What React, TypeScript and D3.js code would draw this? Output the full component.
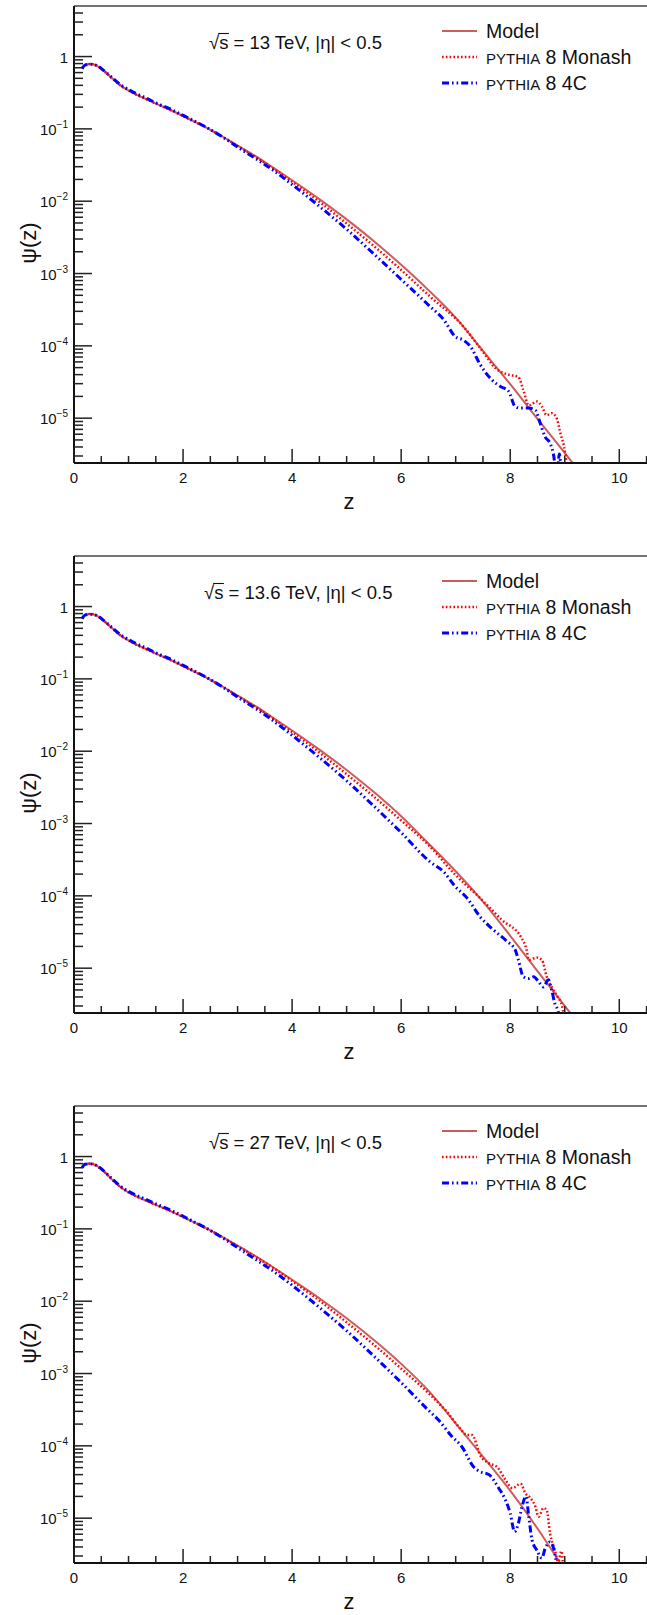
import React, { useEffect, useRef } from "react";
import * as d3 from "d3";

type Pt = [number, number];

// energies shown in the three panels
const energies = ["13", "13.6", "27"];
const xMajor = [0, 2, 4, 6, 8, 10];
const yMajorExp = [0, -1, -2, -3, -4, -5];

// z, psi(z) — sqrt(s) = 13 TeV
const model13: Pt[] = [
  [0.15, 0.7], [0.2, 0.76], [0.3, 0.79], [0.4, 0.76], [0.55, 0.63], [0.7, 0.5],
  [0.85, 0.4], [1.0, 0.34], [1.15, 0.295], [1.3, 0.263], [1.5, 0.224], [1.8, 0.178],
  [2.1, 0.138], [2.45, 0.102], [2.75, 0.076], [3.05, 0.056], [3.35, 0.041], [3.65, 0.0292],
  [4.0, 0.0195], [4.5, 0.0107], [5.0, 5.6e-3], [5.5, 2.8e-3], [6.0, 1.32e-3], [6.5, 5.9e-4],
  [7.0, 2.45e-4], [7.5, 8.5e-5], [8.0, 2.95e-5], [8.5, 9.8e-6], [9.0, 3.3e-6], [9.5, 1.1e-6],
];
const monash13: Pt[] = [
  [0.15, 0.69], [0.2, 0.76], [0.3, 0.79], [0.4, 0.76], [0.55, 0.63], [0.7, 0.5],
  [0.85, 0.4], [1.0, 0.34], [1.15, 0.295], [1.3, 0.263], [1.5, 0.224], [1.8, 0.178],
  [2.1, 0.138], [2.45, 0.102], [2.75, 0.076], [3.05, 0.055], [3.35, 0.04], [3.65, 0.0285],
  [4.0, 0.0186], [4.5, 9.8e-3], [5.0, 4.9e-3], [5.5, 2.4e-3], [6.0, 1.12e-3], [6.53, 4.8e-4],
  [7.14, 1.85e-4], [7.45, 9.3e-5], [7.76, 4.7e-5], [7.97, 4.0e-5], [8.15, 3.7e-5], [8.24, 2.45e-5],
  [8.34, 1.5e-5], [8.49, 1.7e-5], [8.58, 1.45e-5], [8.67, 1.1e-5], [8.76, 1.17e-5], [8.84, 1.05e-5],
  [8.92, 6.2e-6], [9.01, 3.2e-6], [9.06, 1.5e-6],
];
const pythia4c13: Pt[] = [
  [0.15, 0.68], [0.2, 0.76], [0.3, 0.78], [0.4, 0.76], [0.55, 0.64], [0.7, 0.51],
  [0.85, 0.41], [1.0, 0.35], [1.15, 0.305], [1.3, 0.272], [1.5, 0.23], [1.8, 0.183],
  [2.1, 0.141], [2.45, 0.103], [2.75, 0.075], [3.05, 0.053], [3.35, 0.038], [3.65, 0.0269],
  [4.0, 0.017], [4.5, 8.5e-3], [5.0, 4.1e-3], [5.5, 1.86e-3], [6.0, 8.3e-4], [6.53, 3.5e-4],
  [6.78, 2.3e-4], [6.99, 1.35e-4], [7.14, 1.2e-4], [7.27, 9.8e-5], [7.45, 5.5e-5], [7.66, 3.4e-5],
  [7.82, 2.75e-5], [7.97, 2.35e-5], [8.09, 1.45e-5], [8.18, 1.38e-5], [8.34, 1.38e-5], [8.46, 1.29e-5],
  [8.55, 8.5e-6], [8.64, 5.5e-6], [8.73, 4.5e-6], [8.81, 2.6e-6], [8.85, 1.2e-6], [8.9, 3.2e-6],
  [8.95, 1.0e-6],
];

// sqrt(s) = 13.6 TeV
const model136: Pt[] = [
  [0.15, 0.7], [0.2, 0.76], [0.3, 0.79], [0.4, 0.76], [0.55, 0.63], [0.7, 0.5],
  [0.85, 0.4], [1.0, 0.34], [1.15, 0.295], [1.3, 0.263], [1.5, 0.224], [1.8, 0.178],
  [2.1, 0.138], [2.45, 0.102], [2.75, 0.076], [3.05, 0.056], [3.35, 0.041], [3.65, 0.029],
  [4.0, 0.0193], [4.5, 0.0105], [5.0, 5.5e-3], [5.5, 2.72e-3], [6.0, 1.26e-3], [6.5, 5.3e-4],
  [7.0, 2.19e-4], [7.5, 8.3e-5], [8.0, 2.8e-5], [8.5, 9.1e-6], [9.0, 3.0e-6], [9.5, 1.0e-6],
];
const monash136: Pt[] = [
  [0.15, 0.69], [0.2, 0.76], [0.3, 0.79], [0.4, 0.76], [0.55, 0.63], [0.7, 0.5],
  [0.85, 0.4], [1.0, 0.34], [1.15, 0.295], [1.3, 0.263], [1.5, 0.224], [1.8, 0.178],
  [2.1, 0.138], [2.45, 0.102], [2.75, 0.076], [3.05, 0.055], [3.35, 0.04], [3.65, 0.0283],
  [4.0, 0.0184], [4.5, 9.6e-3], [5.0, 4.8e-3], [5.5, 2.35e-3], [6.0, 1.1e-3], [6.53, 4.8e-4],
  [6.98, 2.0e-4], [7.45, 9.3e-5], [7.84, 4.7e-5], [8.21, 2.6e-5], [8.3, 1.8e-5], [8.34, 1.3e-5],
  [8.49, 1.4e-5], [8.58, 1.3e-5], [8.67, 7.6e-6], [8.76, 5.5e-6], [8.86, 4.1e-6], [8.95, 3.0e-6],
  [9.02, 1.5e-6],
];
const pythia4c136: Pt[] = [
  [0.15, 0.68], [0.2, 0.76], [0.3, 0.78], [0.4, 0.76], [0.55, 0.64], [0.7, 0.51],
  [0.85, 0.41], [1.0, 0.35], [1.15, 0.305], [1.3, 0.272], [1.5, 0.23], [1.8, 0.183],
  [2.1, 0.141], [2.45, 0.103], [2.75, 0.075], [3.05, 0.053], [3.35, 0.038], [3.65, 0.0265],
  [4.0, 0.0166], [4.5, 8.2e-3], [5.0, 3.9e-3], [5.5, 1.74e-3], [6.0, 7.5e-4], [6.53, 2.95e-4],
  [6.78, 2.15e-4], [6.99, 1.35e-4], [7.21, 9.3e-5], [7.45, 5.1e-5], [7.66, 3.55e-5], [7.94, 2.35e-5],
  [8.09, 1.8e-5], [8.15, 1.3e-5], [8.24, 7.6e-6], [8.34, 7.2e-6], [8.43, 7.6e-6], [8.52, 6.5e-6],
  [8.61, 5.5e-6], [8.7, 6.9e-6], [8.76, 5.0e-6], [8.82, 3.2e-6], [8.88, 2.5e-6], [8.93, 1.0e-6],
];

// sqrt(s) = 27 TeV
const model27: Pt[] = [
  [0.15, 0.72], [0.2, 0.78], [0.3, 0.8], [0.4, 0.76], [0.55, 0.62], [0.7, 0.48],
  [0.85, 0.38], [1.0, 0.32], [1.15, 0.28], [1.3, 0.25], [1.5, 0.215], [1.8, 0.172],
  [2.1, 0.134], [2.45, 0.1], [2.75, 0.075], [3.05, 0.056], [3.35, 0.041], [3.65, 0.0295],
  [4.0, 0.0198], [4.5, 0.011], [5.0, 5.8e-3], [5.5, 2.9e-3], [6.0, 1.36e-3], [6.5, 5.8e-4],
  [7.0, 2.04e-4], [7.5, 7.1e-5], [8.0, 2.4e-5], [8.5, 7.2e-6], [9.0, 1.9e-6],
];
const monash27: Pt[] = [
  [0.15, 0.71], [0.2, 0.78], [0.3, 0.8], [0.4, 0.76], [0.55, 0.62], [0.7, 0.48],
  [0.85, 0.38], [1.0, 0.32], [1.15, 0.28], [1.3, 0.25], [1.5, 0.215], [1.8, 0.172],
  [2.1, 0.134], [2.45, 0.1], [2.75, 0.075], [3.05, 0.055], [3.35, 0.04], [3.65, 0.029],
  [4.0, 0.019], [4.5, 0.0102], [5.0, 5.1e-3], [5.5, 2.5e-3], [6.0, 1.17e-3], [6.53, 5.1e-4],
  [6.84, 2.95e-4], [7.08, 1.74e-4], [7.21, 1.41e-4], [7.3, 1.41e-4], [7.45, 7.4e-5], [7.61, 5.75e-5],
  [7.76, 5.1e-5], [7.91, 3.4e-5], [8.04, 2.6e-5], [8.19, 3.0e-5], [8.28, 2.2e-5], [8.37, 1.9e-5],
  [8.46, 1.45e-5], [8.52, 1.05e-5], [8.61, 1.38e-5], [8.67, 1.29e-5], [8.73, 6.2e-6], [8.82, 3.6e-6],
  [8.88, 2.5e-6], [8.94, 3.5e-6], [8.98, 1.5e-6],
];
const pythia4c27: Pt[] = [
  [0.15, 0.7], [0.2, 0.78], [0.3, 0.79], [0.4, 0.76], [0.55, 0.63], [0.7, 0.49],
  [0.85, 0.39], [1.0, 0.33], [1.15, 0.29], [1.3, 0.26], [1.5, 0.222], [1.8, 0.178],
  [2.1, 0.137], [2.45, 0.1], [2.75, 0.073], [3.05, 0.052], [3.35, 0.037], [3.65, 0.0262],
  [4.0, 0.0166], [4.5, 8.2e-3], [5.0, 3.9e-3], [5.5, 1.74e-3], [6.0, 7.5e-4], [6.53, 2.95e-4],
  [6.68, 2.3e-4], [6.93, 1.35e-4], [7.11, 9.8e-5], [7.33, 5.1e-5], [7.45, 4.4e-5], [7.61, 4.0e-5],
  [7.79, 2.6e-5], [7.91, 1.8e-5], [8.0, 1.17e-5], [8.08, 6.5e-6], [8.15, 8.5e-6], [8.21, 1.38e-5],
  [8.29, 2.0e-5], [8.34, 1.05e-5], [8.4, 5.0e-6], [8.49, 3.6e-6], [8.58, 2.8e-6], [8.64, 3.8e-6],
  [8.73, 4.7e-6], [8.82, 3.2e-6], [8.88, 1.5e-6],
];

const modelSeries = [model13, model136, model27];
const monashSeries = [monash13, monash136, monash27];
const pythia4cSeries = [pythia4c13, pythia4c136, pythia4c27];

const FONT = "'Liberation Sans', Arial, Helvetica, sans-serif";

const App = () => {
  const ref = useRef<SVGSVGElement | null>(null);

  useEffect(() => {
    const svg = d3.select(ref.current);
    svg.selectAll("*").remove();

    const left = 74;
    const top = 6;
    const bottom = 463;
    const right = 652;
    const step = 550;

    const x = d3.scaleLinear().domain([0, 10.6]).range([left, right]);
    const y = d3.scaleLog().domain([2.4e-6, 5]).range([bottom, top]);

    const styles = [
      { color: "#cd5c5c", width: 2, dash: null },
      { color: "#ff0000", width: 2.5, dash: "1.6 2.2" },
      { color: "#0000ff", width: 3, dash: "7 3 1.6 3 1.6 3" },
    ];

    const yMinor: number[] = [];
    for (let e = -6; e <= 0; e++) {
      for (let m = 2; m <= 9; m++) {
        const v = m * Math.pow(10, e);
        if (v > 2.4e-6 && v < 5) yMinor.push(v);
      }
    }
    const xMinor = d3.range(0, 10.6, 0.5).filter((v) => v % 2 !== 0);

    svg
      .append("defs")
      .append("clipPath")
      .attr("id", "plotclip")
      .append("rect")
      .attr("x", left)
      .attr("y", top)
      .attr("width", right - left)
      .attr("height", bottom - top);

    energies.forEach((en, i) => {
      const g = svg.append("g").attr("transform", `translate(0, ${i * step})`);

      // curves
      const line = d3
        .line<Pt>()
        .x((d) => x(d[0]))
        .y((d) => y(Math.max(d[1], 1e-9)))
        .curve(d3.curveMonotoneX);
      const curves = g.append("g").attr("clip-path", "url(#plotclip)");
      [modelSeries[i], monashSeries[i], pythia4cSeries[i]].forEach((data, k) => {
        const p = curves
          .append("path")
          .attr("d", line(data))
          .attr("fill", "none")
          .attr("stroke", styles[k].color)
          .attr("stroke-width", styles[k].width);
        if (styles[k].dash) p.attr("stroke-dasharray", styles[k].dash);
      });

      // frame
      g.append("line")
        .attr("x1", left).attr("x2", right)
        .attr("y1", top).attr("y2", top)
        .attr("stroke", "#444").attr("stroke-width", 1.5);
      g.append("line")
        .attr("x1", left).attr("x2", left)
        .attr("y1", top).attr("y2", bottom)
        .attr("stroke", "#111").attr("stroke-width", 2);
      g.append("line")
        .attr("x1", left).attr("x2", right)
        .attr("y1", bottom).attr("y2", bottom)
        .attr("stroke", "#111").attr("stroke-width", 2);

      // x ticks
      g.selectAll(".xmaj")
        .data(xMajor)
        .enter()
        .append("line")
        .attr("x1", (d) => x(d)).attr("x2", (d) => x(d))
        .attr("y1", bottom).attr("y2", bottom - 14)
        .attr("stroke", "#222").attr("stroke-width", 1.5);
      g.selectAll(".xmin")
        .data(xMinor)
        .enter()
        .append("line")
        .attr("x1", (d) => x(d)).attr("x2", (d) => x(d))
        .attr("y1", bottom).attr("y2", bottom - 7)
        .attr("stroke", "#222").attr("stroke-width", 1.5);
      g.selectAll(".xlab")
        .data(xMajor)
        .enter()
        .append("text")
        .attr("x", (d) => x(d))
        .attr("y", bottom + 20)
        .attr("text-anchor", "middle")
        .attr("font-family", FONT)
        .attr("font-size", 15)
        .attr("fill", "#111")
        .text((d) => d);

      // y ticks
      g.selectAll(".ymaj")
        .data(yMajorExp)
        .enter()
        .append("line")
        .attr("x1", left).attr("x2", left + 18)
        .attr("y1", (d) => y(Math.pow(10, d))).attr("y2", (d) => y(Math.pow(10, d)))
        .attr("stroke", "#222").attr("stroke-width", 1.5);
      g.selectAll(".ymin")
        .data(yMinor)
        .enter()
        .append("line")
        .attr("x1", left).attr("x2", left + 9)
        .attr("y1", (d) => y(d)).attr("y2", (d) => y(d))
        .attr("stroke", "#222").attr("stroke-width", 1.5);
      const ylab = g
        .selectAll(".ylab")
        .data(yMajorExp)
        .enter()
        .append("text")
        .attr("x", 68)
        .attr("y", (d) => y(Math.pow(10, d)) + 6)
        .attr("text-anchor", "end")
        .attr("font-family", FONT)
        .attr("font-size", 15)
        .attr("fill", "#111");
      ylab.each(function (d) {
        const t = d3.select(this);
        if (d === 0) {
          t.text("1");
        } else {
          t.append("tspan").text("10");
          t.append("tspan")
            .attr("dy", -7)
            .attr("font-size", 10)
            .text(`\u2212${-d}`);
        }
      });

      // axis titles
      g.append("text")
        .attr("transform", `translate(36, 243) rotate(-90)`)
        .attr("text-anchor", "middle")
        .attr("font-family", FONT)
        .attr("font-size", 22)
        .attr("fill", "#111")
        .text("\u03c8(z)");
      g.append("text")
        .attr("x", 349)
        .attr("y", 509)
        .attr("text-anchor", "middle")
        .attr("font-family", FONT)
        .attr("font-size", 22)
        .attr("fill", "#111")
        .text("z");

      // energy label
      const lab = g
        .append("text")
        .attr("x", i === 1 ? 204 : 209)
        .attr("y", 49)
        .attr("font-family", FONT)
        .attr("font-size", 18.5)
        .attr("fill", "#111")
        .text(`\u221as = ${en} TeV, |\u03b7| < 0.5`);
      const node = lab.node() as SVGTextElement;
      const s0 = node.getStartPositionOfChar(1).x;
      const s1 = node.getEndPositionOfChar(1).x;
      g.append("line")
        .attr("x1", s0 - 1).attr("x2", s1 + 0.5)
        .attr("y1", 33.5).attr("y2", 33.5)
        .attr("stroke", "#111").attr("stroke-width", 1.1);

      // legend
      const rows = [31, 57, 83];
      const names = ["Model", "Monash", "4C"];
      rows.forEach((ry, k) => {
        const l = g
          .append("line")
          .attr("x1", 442).attr("x2", 477)
          .attr("y1", ry).attr("y2", ry)
          .attr("stroke", styles[k].color)
          .attr("stroke-width", styles[k].width);
        if (styles[k].dash) l.attr("stroke-dasharray", styles[k].dash);
        const t = g
          .append("text")
          .attr("x", 486)
          .attr("y", ry + 7)
          .attr("font-family", FONT)
          .attr("font-size", 19.5)
          .attr("fill", "#111");
        if (k === 0) {
          t.text(names[k]);
        } else {
          t.append("tspan").attr("font-size", 15).text("PYTHIA");
          t.append("tspan").text(` 8 ${names[k]}`);
        }
      });
    });
  }, []);

  return (
    <svg
      ref={ref}
      width={647}
      height={1615}
      style={{ position: "absolute", left: 0, top: 0, background: "#fff" }}
    />
  );
};

export default App;
